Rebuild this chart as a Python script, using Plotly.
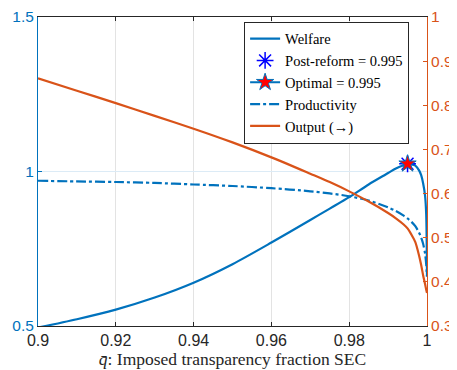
import plotly.graph_objects as go

# ---- data ----
q_bar = [0.9, 0.91, 0.92, 0.93, 0.94, 0.95, 0.96, 0.97, 0.975, 0.98, 0.985, 0.99,
         0.992, 0.994, 0.995, 0.996, 0.997, 0.998, 0.9985, 0.999, 0.9995, 0.9998, 1.0]
welfare = [0.495, 0.522, 0.553, 0.592, 0.640, 0.700, 0.770, 0.843, 0.880, 0.917, 0.958, 0.995,
           1.010, 1.020, 1.023, 1.023, 1.019, 1.003, 0.988, 0.962, 0.922, 0.860, 0.660]
productivity = [0.970, 0.968, 0.966, 0.963, 0.958, 0.953, 0.946, 0.936, 0.929, 0.920, 0.906, 0.884,
                0.872, 0.857, 0.848, 0.837, 0.823, 0.801, 0.786, 0.766, 0.735, 0.700, 0.660]
output = [0.861, 0.833, 0.805, 0.776, 0.747, 0.716, 0.682, 0.645, 0.626, 0.605, 0.582, 0.556,
          0.544, 0.530, 0.521, 0.507, 0.490, 0.458, 0.438, 0.415, 0.395, 0.382, 0.375]
post_reform_x = [0.995]
post_reform_y = [1.025]
optimal_x = [0.995]
optimal_y = [1.025]

x_ticks = [0.9, 0.92, 0.94, 0.96, 0.98, 1.0]
x_tick_labels = ["0.9", "0.92", "0.94", "0.96", "0.98", "1"]
y_ticks = [0.5, 1.0, 1.5]
y_tick_labels = ["0.5", "1", "1.5"]
y2_ticks = [0.3, 0.4, 0.5, 0.6, 0.7, 0.8, 0.9, 1.0]
y2_tick_labels = ["0.3", "0.4", "0.5", "0.6", "0.7", "0.8", "0.9", "1"]

BLUE = "#0072BD"
ORANGE = "#D95319"
DARK = "#262626"
SERIF = "Liberation Serif"
SANS = "Liberation Sans"

fig = go.Figure()
fig.add_trace(go.Scatter(x=q_bar, y=welfare, mode="lines", name="Welfare",
                         line=dict(color=BLUE, width=2.2, shape="spline", smoothing=0.8)))
fig.add_trace(go.Scatter(x=post_reform_x, y=post_reform_y, mode="markers",
                         name="Post-reform = 0.995",
                         marker=dict(symbol="asterisk-open", size=14, color="#0000FF",
                                     line=dict(color="#0000FF", width=1.5))))
fig.add_trace(go.Scatter(x=optimal_x, y=optimal_y, mode="lines+markers",
                         name="Optimal = 0.995",
                         line=dict(color=BLUE, width=2),
                         marker=dict(symbol="star", size=13, color="#FF0000",
                                     line=dict(color=BLUE, width=1))))
fig.add_trace(go.Scatter(x=q_bar, y=productivity, mode="lines", name="Productivity",
                         line=dict(color=BLUE, width=2.2, dash="10px,3px,3px,3px",
                                   shape="spline", smoothing=0.8)))
fig.add_trace(go.Scatter(x=q_bar, y=output, mode="lines", name="Output (→)",
                         line=dict(color=ORANGE, width=2.2, shape="spline", smoothing=0.8),
                         yaxis="y2"))

# the page adds an 8px body margin, so the figure is sized to fit the 457x370 window
fig.update_layout(
    template="none",
    width=449, height=362,
    margin=dict(l=30, r=30, t=9, b=44, autoexpand=False),
    paper_bgcolor="white", plot_bgcolor="white",
    showlegend=True,
    legend=dict(x=0.954, y=0.985, xanchor="right", yanchor="top",
                bgcolor="white", bordercolor=DARK, borderwidth=1,
                font=dict(family=SERIF, size=14.5, color="black"),
                itemwidth=30, tracegroupgap=0),
    xaxis=dict(range=[0.9, 1.0], tickvals=x_ticks, ticktext=x_tick_labels,
               showgrid=True, gridcolor="#E3E3E3", gridwidth=1,
               ticks="inside", ticklen=4, tickcolor=DARK,
               showline=True, linecolor=DARK, linewidth=1, mirror="ticks",
               tickfont=dict(family=SANS, size=16, color=DARK),
               zeroline=False, automargin=False, ticklabeloverflow="allow",
               title=dict(text="<i>q̄</i>: Imposed transparency fraction SEC",
                          font=dict(family=SERIF, size=17.5, color=DARK), standoff=2)),
    yaxis=dict(range=[0.5, 1.5], tickvals=y_ticks, ticktext=y_tick_labels,
               showgrid=True, gridcolor="#DCEBF6", gridwidth=1,
               ticks="inside", ticklen=4, tickcolor=BLUE,
               showline=True, linecolor=BLUE, linewidth=1,
               tickfont=dict(family=SANS, size=15.5, color=BLUE),
               zeroline=False, automargin=False, ticklabeloverflow="allow"),
    yaxis2=dict(range=[0.3, 1.0], tickvals=y2_ticks, ticktext=y2_tick_labels,
                overlaying="y", side="right", showgrid=False,
                ticks="inside", ticklen=4, tickcolor=ORANGE,
                showline=True, linecolor=ORANGE, linewidth=1,
                tickfont=dict(family=SANS, size=15.5, color=ORANGE),
                zeroline=False, automargin=False, ticklabeloverflow="allow"),
)

fig.write_html("out.html")
